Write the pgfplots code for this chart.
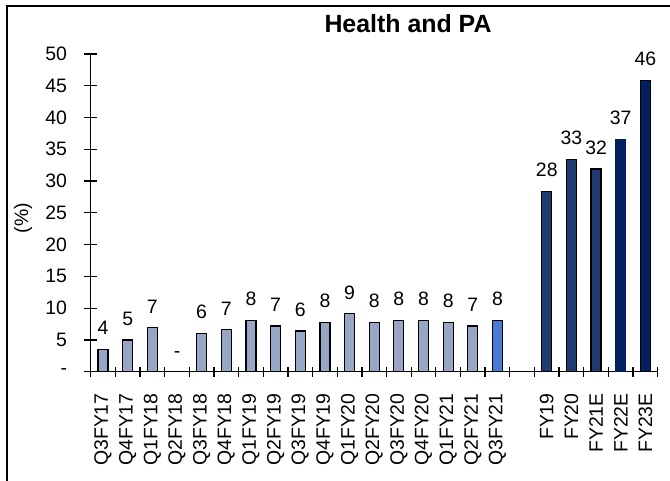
\documentclass[border=0pt]{standalone}
\usepackage{pgfplots}
\pgfplotsset{compat=1.18}
\usepackage{fontspec}
\setmainfont{Liberation Sans}
\definecolor{lightbar}{HTML}{97A6C4}
\definecolor{brightbar}{HTML}{4A7AD3}
\definecolor{darkbar}{HTML}{1F3A6E}
\definecolor{navybar}{HTML}{002060}
\begin{document}
\begin{tikzpicture}[x=1bp,y=1bp]
\path[use as bounding box] (0,0) rectangle (670,481);
\draw[line width=1.5bp] (7,0) -- (7,475) -- (670,475);
\node[anchor=base, font=\fontsize{25}{25}\selectfont\bfseries] at (408,448) {Health and PA};
\node[rotate=90, font=\fontsize{19.5}{19.5}\selectfont] at (23,263) {(\%)};
\begin{axis}[
  at={(90.7bp,109.3bp)}, anchor=south west,
  scale only axis, width=567bp, height=317.7bp,
  xmin=-0.5, xmax=22.5, ymin=0, ymax=50,
  axis x line*=bottom, axis y line*=left,
  axis line style={line width=1.5bp},
  every tick/.style={black, line width=1.3bp},
  tick align=center,
  ytick={0,5,...,50},
  yticklabels={{-\hspace{10bp}},5,10,15,20,25,30,35,40,45,50},
  major tick length=13bp,
  minor tick length=10bp,
  xtick={0,...,16,18,19,20,21,22},
  xticklabels={Q3FY17,Q4FY17,Q1FY18,Q2FY18,Q3FY18,Q4FY18,Q1FY19,Q2FY19,Q3FY19,Q4FY19,Q1FY20,Q2FY20,Q3FY20,Q4FY20,Q1FY21,Q2FY21,Q3FY21,FY19,FY20,FY21E,FY22E,FY23E},
  minor xtick={-0.5,0.5,...,22.5},
  major x tick style={draw=none},
  minor x tick style={black, line width=1.3bp},
  xticklabel style={rotate=90, anchor=east, inner sep=0pt, font=\fontsize{19.5}{19.5}\selectfont},
  xticklabel shift=15bp,
  yticklabel style={anchor=east, inner sep=0pt, font=\fontsize{19.5}{19.5}\selectfont},
  yticklabel shift=17bp,
  /pgf/number format/assume math mode=true,
  clip=false,
  every node near coord/.append style={font=\fontsize{19.5}{19.5}\selectfont, inner sep=0pt, yshift=14bp, black},
]
\addplot[ybar, bar width=10bp, bar shift=0pt, fill=lightbar, draw=black, line width=1.2bp,
  nodes near coords, point meta=explicit symbolic] coordinates {
  (0,3.5) [4] (1,5.0) [5] (2,6.9) [7] (3,0) [-] (4,6.0) [6] (5,6.6) [7]
  (6,8.1) [8] (7,7.2) [7] (8,6.4) [6] (9,7.8) [8] (10,9.1) [9] (11,7.8) [8]
  (12,8.1) [8] (13,8.1) [8] (14,7.8) [8] (15,7.2) [7]
};
\addplot[ybar, bar width=10bp, bar shift=0pt, fill=brightbar, draw=black, line width=1.2bp,
  nodes near coords, point meta=explicit symbolic] coordinates {
  (16,8.1) [8]
};
\addplot[ybar, bar width=10bp, bar shift=0pt, fill=darkbar, draw=black, line width=1.2bp,
  nodes near coords, point meta=explicit symbolic] coordinates {
  (18,28.4) [28] (19,33.4) [33] (20,31.9) [32]
};
\addplot[ybar, bar width=10bp, bar shift=0pt, fill=navybar, draw=navybar, line width=1.2bp,
  nodes near coords, point meta=explicit symbolic] coordinates {
  (21,36.6) [37]
};
\addplot[ybar, bar width=10bp, bar shift=0pt, fill=navybar, draw=black, line width=1.2bp,
  nodes near coords, point meta=explicit symbolic] coordinates {
  (22,45.8) [46]
};
\end{axis}
\end{tikzpicture}
\end{document}
